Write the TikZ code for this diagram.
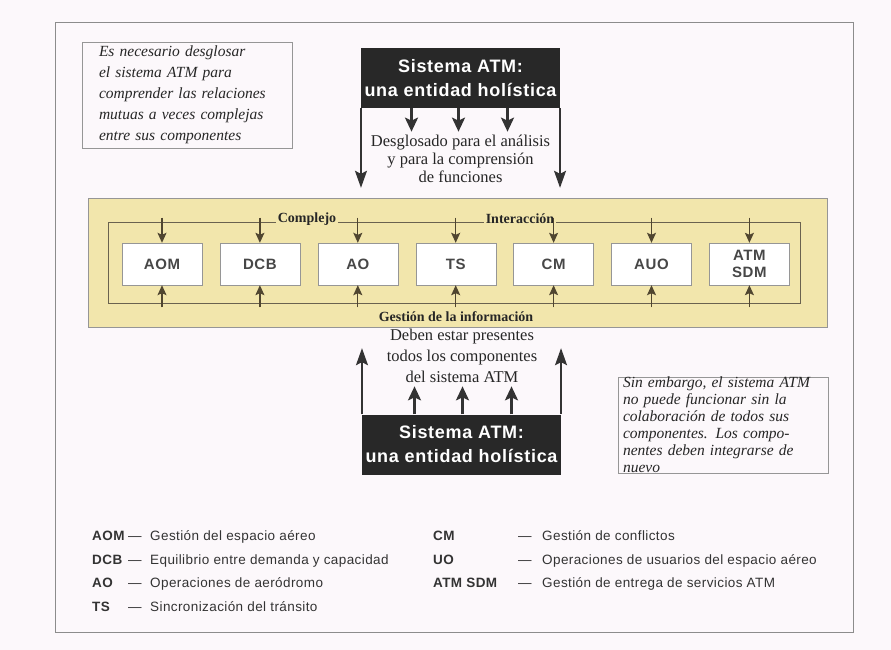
\documentclass[tikz,border=0pt]{standalone}
\usepackage{fontspec}
\usepackage{array}
\setmainfont{Liberation Serif}
\setsansfont{Liberation Sans}
\newfontfamily\boxfont[LetterSpace=4]{Liberation Sans}
\newfontfamily\keyfont[LetterSpace=3]{Liberation Sans}
\usetikzlibrary{arrows.meta, positioning}

\definecolor{paper}{RGB}{252,248,251}
\definecolor{khaki}{RGB}{242,230,172}
\definecolor{olive}{RGB}{80,70,48}
\definecolor{frameline}{RGB}{140,140,140}
\definecolor{boxline}{RGB}{150,150,150}
\definecolor{sysfill}{RGB}{40,40,40}

\begin{document}
\begin{tikzpicture}[x=1pt, y=-1pt,
        node distance=17.5pt,
        note/.style={draw=boxline, inner sep=0pt, align=left, text=black!85, font=\itshape\fontsize{15.5}{21}\selectfont},
        sysbox/.style={fill=sysfill, text=white, minimum width=196pt, minimum height=60pt, align=center, font=\boxfont\bfseries\fontsize{18}{24}\selectfont},
        comp/.style={rectangle, draw=boxline, fill=white, text=black!72, minimum width=80pt, minimum height=42pt, align=center, font=\boxfont\bfseries\fontsize{15}{17}\selectfont},
        tag/.style={font=\bfseries\fontsize{14}{16}\selectfont, text=black!85, inner sep=2pt},
        prose/.style={align=center, text=black!85, font=\fontsize{16.5}{18}\selectfont},
        longarrow/.style={-{Stealth[length=17pt, width=12pt, inset=3pt]}, line width=1.5pt, draw=black!80},
        stubarrow/.style={-{Stealth[length=14pt, width=13pt, inset=3pt]}, line width=2.5pt, draw=black!80},
        linkarrow/.style={-{Stealth[length=10pt, width=9pt, inset=2pt]}, line width=1.2pt, draw=olive, shorten <=-4pt}
        ]

        \fill[paper] (0,0) rectangle (891,650);
        \useasboundingbox (0,0) rectangle (891,650);
        \draw[frameline, line width=1pt] (55,23) rectangle (853,632);

        % upper half: breaking the system apart
        \node (why) [note, minimum width=210pt, minimum height=106pt, text width=176pt] at (187,95) {Es necesario desglosar\\ el sistema ATM para\\ comprender las relaciones\\ mutuas a veces complejas\\ entre sus componentes};
        \node (topsys) [sysbox] at (460.5,78) {Sistema ATM:\\ una entidad holística};
        \node (split) [prose] at (460.5,159) {Desglosado para el análisis\\ y para la comprensión\\ de funciones};

        % the components
        \node (mgmt) [rectangle, draw=boxline, fill=khaki, minimum width=739pt, minimum height=129pt] at (457.5,262.5) {};
        \node (ring) [rectangle, draw=olive!85, line width=0.8pt, minimum width=692pt, minimum height=81pt] at (454,262.5) {};
        \node (complejo) [tag, fill=khaki] at (307,219) {Complejo};
        \node (interaccion) [tag, fill=khaki] at (520,219) {Interacción};
        \node (info) [tag] at (456,317) {Gestión de la información};

        \node (aom) [comp] at (162,264) {AOM};
        \node (dcb) [comp, right=of aom] {DCB};
        \node (ao) [comp, right=of dcb] {AO};
        \node (ts) [comp, right=of ao] {TS};
        \node (cm) [comp, right=of ts] {CM};
        \node (auo) [comp, right=of cm] {AUO};
        \node (sdm) [comp, right=of auo] {ATM\\ SDM};

        \draw [linkarrow] (aom.north |- ring.north) -- (aom.north);
        \draw [linkarrow] (dcb.north |- ring.north) -- (dcb.north);
        \draw [linkarrow] (ao.north |- ring.north) -- (ao.north);
        \draw [linkarrow] (ts.north |- ring.north) -- (ts.north);
        \draw [linkarrow] (cm.north |- ring.north) -- (cm.north);
        \draw [linkarrow] (auo.north |- ring.north) -- (auo.north);
        \draw [linkarrow] (sdm.north |- ring.north) -- (sdm.north);
        \draw [linkarrow] (aom.south |- ring.south) -- (aom.south);
        \draw [linkarrow] (dcb.south |- ring.south) -- (dcb.south);
        \draw [linkarrow] (ao.south |- ring.south) -- (ao.south);
        \draw [linkarrow] (ts.south |- ring.south) -- (ts.south);
        \draw [linkarrow] (cm.south |- ring.south) -- (cm.south);
        \draw [linkarrow] (auo.south |- ring.south) -- (auo.south);
        \draw [linkarrow] (sdm.south |- ring.south) -- (sdm.south);

        \draw [longarrow, shorten >=10pt] (topsys.south west) -- (topsys.south west |- mgmt.north);
        \draw [longarrow, shorten >=10pt] (topsys.south east) -- (topsys.south east |- mgmt.north);
        \draw [stubarrow] ([xshift=-49pt]topsys.south) -- ([xshift=-49pt]topsys.south |- split.north);
        \draw [stubarrow] ([xshift=-2pt]topsys.south) -- ([xshift=-2pt]topsys.south |- split.north);
        \draw [stubarrow] ([xshift=47pt]topsys.south) -- ([xshift=47pt]topsys.south |- split.north);

        % lower half: putting it back together
        \node (need) [prose, font=\fontsize{16.5}{21}\selectfont] at (462,356) {Deben estar presentes\\ todos los componentes\\ del sistema ATM};
        \node (botsys) [sysbox] at (461.5,444.5) {Sistema ATM:\\ una entidad holística};
        \node (yet) [note, font=\itshape\fontsize{15.5}{17}\selectfont, minimum width=210pt, minimum height=96pt, text width=200pt] at (723,425) {Sin embargo, el sistema ATM\\ no puede funcionar sin la\\ colaboración de todos sus\\ componentes. Los compo-\\ nentes deben integrarse de\\ nuevo};

        \draw [longarrow, shorten >=21pt] (botsys.north west) -- (botsys.north west |- mgmt.south);
        \draw [longarrow, shorten >=21pt] (botsys.north east) -- (botsys.north east |- mgmt.south);
        \draw [stubarrow] ([xshift=-47pt]botsys.north) -- ([xshift=-47pt]botsys.north |- need.south);
        \draw [stubarrow] ([xshift=1pt]botsys.north) -- ([xshift=1pt]botsys.north |- need.south);
        \draw [stubarrow] ([xshift=50pt]botsys.north) -- ([xshift=50pt]botsys.north |- need.south);

        % legend
        \node (keyleft) [anchor=base west, inner sep=0pt, text=black!80, font=\keyfont\fontsize{13.5}{23.5}\selectfont] at (92,540.5) {\begin{tabular}[t]{@{}>{\bfseries}p{36pt}@{}p{22pt}@{}l@{}}
            AOM & — & Gestión del espacio aéreo\\
            DCB & — & Equilibrio entre demanda y capacidad\\
            AO & — & Operaciones de aeródromo\\
            TS & — & Sincronización del tránsito
        \end{tabular}};
        \node (keyright) [anchor=base west, inner sep=0pt, text=black!80, font=\keyfont\fontsize{13.5}{23.5}\selectfont] at (433,540.5) {\begin{tabular}[t]{@{}>{\bfseries}p{85pt}@{}p{24pt}@{}l@{}}
            CM & — & Gestión de conflictos\\
            UO & — & Operaciones de usuarios del espacio aéreo\\
            ATM SDM & — & Gestión de entrega de servicios ATM
        \end{tabular}};
\end{tikzpicture}
\end{document}
